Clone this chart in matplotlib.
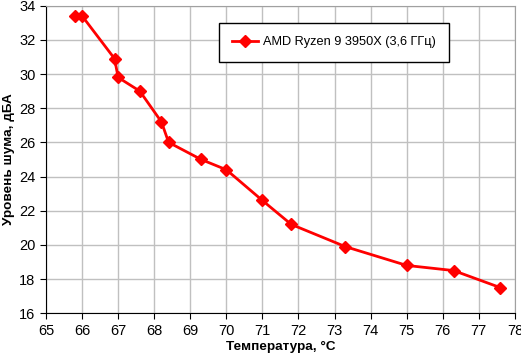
import matplotlib
matplotlib.use('Agg')
import matplotlib.pyplot as plt

plt.rcParams['font.family'] = ['Liberation Sans', 'DejaVu Sans']

temp = [65.8, 66.0, 66.9, 67.0, 67.6, 68.2, 68.4, 69.3, 70.0, 71.0, 71.8, 73.3, 75.0, 76.3, 77.6]
noise = [33.4, 33.4, 30.9, 29.8, 29.0, 27.2, 26.0, 25.0, 24.4, 22.6, 21.2, 19.9, 18.8, 18.5, 17.5]
label = 'AMD Ryzen 9 3950X (3,6 ГГц)'

fig = plt.figure(figsize=(5.21, 3.54), dpi=100)
ax = fig.add_axes([0.0883, 0.115, 0.9, 0.869])

ax.plot(temp, noise, color='#ff0000', lw=2, marker='D', ms=6.5, label=label)

ax.set_xlim(65, 78)
ax.set_ylim(16, 34)
ax.set_xticks(range(65, 79))
ax.set_yticks(range(16, 35, 2))
ax.grid(True, color='#c0c0c0', lw=1)
ax.set_axisbelow(True)
for s in ['top', 'right']:
    ax.spines[s].set_color('#a0a0a0')
for s in ['left', 'bottom']:
    ax.spines[s].set_color('black')
ax.tick_params(direction='out', length=4, labelsize=10.5, color='black')

ax.set_xlabel('Температура, °C', fontsize=9.7, fontweight='bold', labelpad=2)
ax.set_ylabel('Уровень шума, дБА', fontsize=9.7, fontweight='bold', labelpad=3)

leg = ax.legend(loc='upper left', bbox_to_anchor=(0.369, 0.944), fontsize=9.2,
                fancybox=False, framealpha=1, edgecolor='black', borderpad=1.05,
                handlelength=2.0, handletextpad=0.4, borderaxespad=0)
leg.get_frame().set_linewidth(1)

fig.savefig('out.png', dpi=100)
